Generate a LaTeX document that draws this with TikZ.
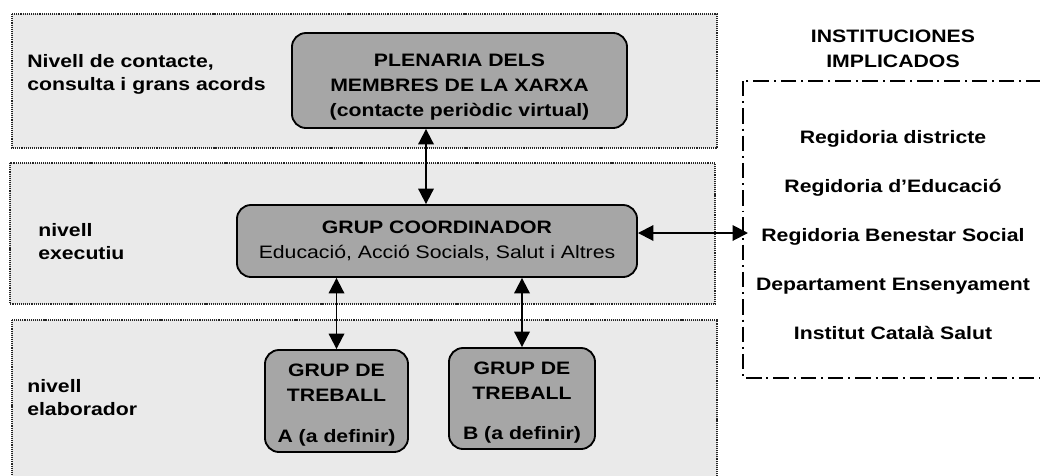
\documentclass[tikz,border=0pt]{standalone}
\usepackage{fontspec}
\setmainfont{Liberation Sans}[FakeStretch=1.18]
\usetikzlibrary{arrows.meta}
\definecolor{bandgray}{HTML}{EAEAEA}
\definecolor{grupgray}{HTML}{A6A6A6}
\newcommand\diagfont{\fontsize{12.8}{17.8}\selectfont}

\begin{document}
\begin{tikzpicture}[x=0.025cm, y=-0.025cm,
  >={Triangle[length=11pt,width=11pt]},
  band/.style={draw=black!85, line width=0.8pt, dash pattern=on 0.8pt off 0.7pt, fill=bandgray},
  grup/.style={draw, line width=1.3pt, rounded corners=10pt, fill=grupgray, align=center, inner sep=0pt, font=\diagfont\bfseries},
  level/.style={anchor=west, align=left, inner sep=0pt, font=\fontsize{12.8}{16.4}\selectfont\bfseries},
  inst/.style={anchor=base, inner sep=0pt, font=\diagfont\bfseries},
  instline/.style={line width=1.1pt, dash pattern=on 11pt off 3.5pt on 1.4pt off 3.5pt},
  link/.style={<->, line width=1.4pt}]
\useasboundingbox (0,0) rectangle (1040,475);
\clip (0,0) rectangle (1040,475);
\draw [band] (12,14) rectangle (717,148);
\draw [band] (10,163) rectangle (715,304);
\draw [band] (12,320) rectangle (717,495);
\draw [instline] (743,81) rectangle (1100,378);

\node (nivcontacte) [level] at (27,74) {Nivell de contacte,\\consulta i grans acords};
\node (nivexec) [level] at (38,242) {nivell\\executiu};
\node (nivelab) [level] at (27,398) {nivell\\elaborador};

\node (plen) [grup, minimum width=8.375cm, minimum height=2.375cm] at (459.5,80.5) {\rule{0pt}{18pt}PLENARIA DELS\\MEMBRES DE LA XARXA\\(contacte periòdic virtual)};
\node (coord) [grup, minimum width=10cm, minimum height=1.8cm] at (437,241) {GRUP COORDINADOR\\\mdseries Educació, Acció Socials, Salut i Altres};
\node (grpA) [grup, minimum width=3.575cm, minimum height=2.55cm] at (336.5,401) {\rule{0pt}{15pt}GRUP DE\\TREBALL\\[11pt]A (a definir)};
\node (grpB) [grup, minimum width=3.65cm, minimum height=2.525cm] at (522,398.5) {\rule{0pt}{15pt}GRUP DE\\TREBALL\\[11pt]B (a definir)};

\node (insthead) [align=center, inner sep=0pt, font=\diagfont\bfseries] at (893,49) {INSTITUCIONES\\IMPLICADOS};
\node (inst1) [inst] at (893,143) {Regidoria districte};
\node (inst2) [inst] at (893,192) {Regidoria d’Educació};
\node (inst3) [inst] at (893,241) {Regidoria Benestar Social};
\node (inst4) [inst] at (893,290) {Departament Ensenyament};
\node (inst5) [inst] at (893,339) {Institut Català Salut};
\coordinate (instedge) at (748,233);

\draw [link] (plen.south -| 426,0) -- (coord.north -| 426,0);
\draw [link] (coord.east |- instedge) -- (instedge);
\draw [link] (coord.south -| grpA.north) -- (grpA.north);
\draw [link] (coord.south -| grpB.north) -- (grpB.north);
\end{tikzpicture}
\end{document}
